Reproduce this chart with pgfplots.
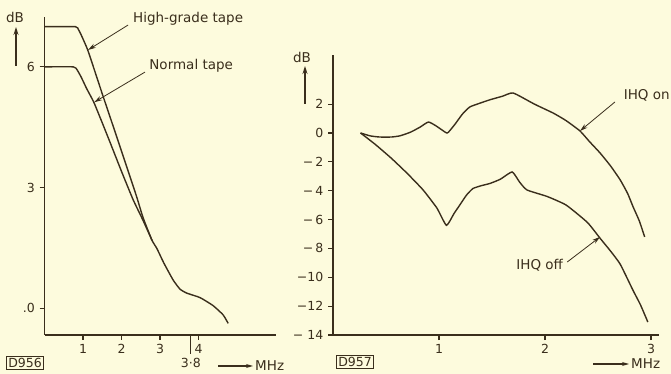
\documentclass[border=0pt]{standalone}
\usepackage{pgfplots}
\pgfplotsset{compat=1.18}
\usetikzlibrary{arrows.meta,backgrounds}
\usepackage{fontspec}
\setmainfont{DejaVu Sans}
\definecolor{ink}{HTML}{3A2E1C}
\definecolor{paper}{HTML}{FDFBDD}
\tikzset{lead/.style={ink, line width=0.8pt, -{Stealth[length=8pt,width=4.5pt]}},
  lab/.style={text=ink, font=\fontsize{13.5}{15}\selectfont}}
\begin{document}
\fontsize{13.5}{15}\selectfont
\begin{tikzpicture}[x=1pt,y=1pt]
\pgfplotsset{
  myax/.style={
    axis x line=bottom, axis y line=left,
    axis line style={-, ink, line width=1.1pt},
    tick style={ink, line width=1.1pt},
    tick align=outside, major tick length=5pt,
    clip=false,
    ticklabel style={font=\fontsize{12.5}{14}\selectfont, text=ink},
    /pgf/number format/assume math mode=true,
  },
  curve/.style={ink, line width=1.4pt, smooth, tension=0.3, no marks},
}
% ---------------- left panel ----------------
\begin{axis}[myax, at={(44.5pt,39pt)}, anchor=south west,
  x=38.5pt, y=40.2pt, xmin=0, xmax=6, ymin=-0.67, ymax=7.25,
  xtick={1,2,3,4}, ytick={0,3,6}, yticklabels={.0,3,6},
  extra x ticks={3.8}, extra x tick labels={3·8},
  extra x tick style={major tick length=19pt}]
\addplot[curve] coordinates {
 (0,7.0) (0.8,7.0) (0.88,6.93) (0.95,6.8) (1.13,6.4) (1.5,5.33) (1.88,4.25)
 (2.2,3.33) (2.4,2.75) (2.56,2.25) (2.79,1.69) (2.92,1.48) (3.1,1.12) (3.34,0.70)
 (3.52,0.47) (3.70,0.37) (4.04,0.26) (4.38,0.06) (4.64,-0.17) (4.77,-0.38)};
\addplot[curve] coordinates {
 (0,6.0) (0.75,6.0) (0.85,5.92) (0.95,5.75) (1.1,5.45) (1.29,5.1) (1.65,4.25)
 (2.0,3.4) (2.3,2.7) (2.56,2.18) (2.79,1.69)};
\draw[lead] (axis cs:2.17,7.04) -- (axis cs:1.13,6.42);
\node[lab] at (axis cs:3.73,7.19) {High-grade tape};
\draw[lead] (axis cs:2.61,5.87) -- (axis cs:1.29,5.12);
\node[lab] at (axis cs:3.81,6.02) {Normal tape};
\end{axis}
% ---------------- right panel ----------------
\begin{axis}[myax, at={(333pt,39pt)}, anchor=south west,
  x=106pt, y=14.43pt, xmin=0, xmax=3.08, ymin=-14, ymax=5.4,
  xtick={1,2,3}, ytick={-14,-12,-10,-8,-6,-4,-2,0,2},
  yticklabels={−\ 14,−12,−10,−\,8,−\,6,−\,4,−\,2,0,2}]
\addplot[curve] coordinates {
 (0.26,0) (0.35,-0.2) (0.44,-0.28) (0.55,-0.28) (0.63,-0.2) (0.73,0.05) (0.82,0.4)
 (0.9,0.76) (0.97,0.5) (1.03,0.2) (1.08,0.0) (1.15,0.6) (1.22,1.3) (1.29,1.8)
 (1.38,2.05) (1.48,2.3) (1.6,2.55) (1.70,2.77) (1.9,2.0) (2.08,1.37) (2.2,0.85)
 (2.33,0.14) (2.42,-0.6) (2.52,-1.39) (2.62,-2.3) (2.71,-3.26) (2.78,-4.2)
 (2.83,-5.1) (2.89,-6.1) (2.94,-7.2)};
\addplot[curve] coordinates {
 (0.26,0) (0.4,-0.8) (0.55,-1.75) (0.7,-2.8) (0.85,-3.95) (0.98,-5.2) (1.07,-6.4)
 (1.14,-5.6) (1.2,-4.95) (1.26,-4.3) (1.32,-3.85) (1.4,-3.65) (1.48,-3.5)
 (1.58,-3.2) (1.69,-2.7) (1.76,-3.4) (1.83,-3.95) (2.02,-4.4) (2.2,-5.0)
 (2.4,-6.2) (2.52,-7.3) (2.62,-8.2) (2.71,-9.1) (2.83,-10.9) (2.9,-11.9) (2.97,-13.1)};
\draw[lead] (axis cs:2.66,2.15) -- (axis cs:2.33,0.14);
\node[lab] at (axis cs:2.96,2.63) {IHQ on};
\draw[lead] (axis cs:2.21,-8.94) -- (axis cs:2.52,-7.2);
\node[lab] at (axis cs:1.95,-9.2) {IHQ off};
\end{axis}
% ---------------- extra labels ----------------
\node[lab] at (15,357) {dB};
\draw[ink, line width=1.1pt, -{Stealth[length=8pt,width=5pt]}] (16,308) -- (16,347);
\node[lab] at (302,317) {dB};
\draw[ink, line width=1.1pt, -{Stealth[length=8pt,width=5pt]}] (305,270) -- (305,308);
\draw[ink, line width=1.1pt, -{Stealth[length=7pt,width=4pt]}] (218,8) -- (253,8);
\node[lab, anchor=west, inner sep=1pt] at (254,8) {MHz};
\draw[ink, line width=1.1pt, -{Stealth[length=7pt,width=4pt]}] (593,10) -- (629,10);
\node[lab, anchor=west, inner sep=1pt] at (630,10) {MHz};
\node[lab, draw=ink, line width=0.8pt, inner sep=1.5pt, font=\fontsize{12.5}{14}\selectfont] at (25,11) {D956};
\node[lab, draw=ink, line width=0.8pt, inner sep=1.5pt, font=\fontsize{12.5}{14}\selectfont] at (355,12) {D957};
\begin{scope}[on background layer]
\fill[paper] (0,0) rectangle (671,374);
\end{scope}
\pgfresetboundingbox
\path[use as bounding box] (0,0) rectangle (671,374);
\end{tikzpicture}
\end{document}
